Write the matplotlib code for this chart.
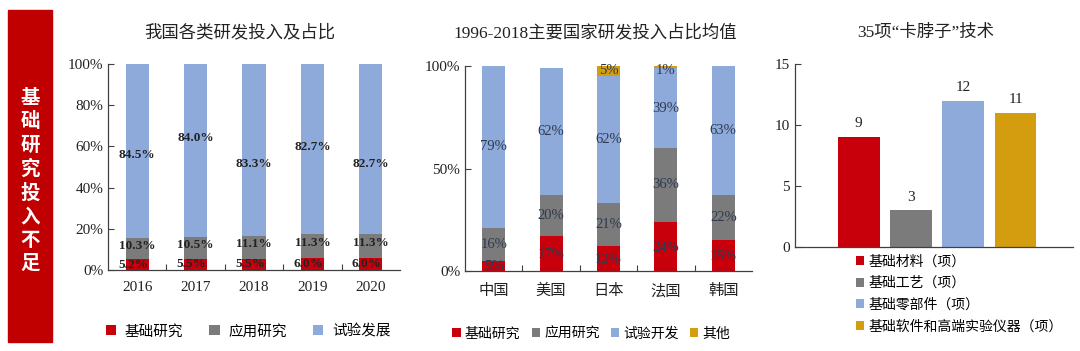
import numpy as np
import matplotlib.pyplot as plt
from matplotlib.patches import Rectangle

# fonts: Times-like for numbers, CJK fallback for Chinese
FONTS = ['Liberation Serif', 'Noto Sans CJK SC']
plt.rcParams['font.family'] = FONTS
plt.rcParams['axes.unicode_minus'] = False

# ---- data ----
years = ['2016', '2017', '2018', '2019', '2020']
cn_basic = [5.2, 5.5, 5.5, 6.0, 6.0]
cn_applied = [10.3, 10.5, 11.1, 11.3, 11.3]
cn_dev = [84.5, 84.0, 83.3, 82.7, 82.7]
cn_names = ['基础研究', '应用研究', '试验发展']

countries = ['中国', '美国', '日本', '法国', '韩国']
ct_basic = [5, 17, 12, 24, 15]
ct_applied = [16, 20, 21, 36, 22]
ct_dev = [79, 62, 62, 39, 63]
ct_other = [0, 0, 5, 1, 0]
ct_names = ['基础研究', '应用研究', '试验开发', '其他']

tech_names = ['基础材料（项）', '基础工艺（项）', '基础零部件（项）', '基础软件和高端实验仪器（项）']
tech_counts = [9, 3, 12, 11]

RED = '#c8000c'
GRAY = '#7b7b7b'
BLUE = '#8eaadb'
GOLD = '#d49d10'
BANNER = '#c00000'
TXT = '#222222'

fig = plt.figure(figsize=(10.8, 3.51), dpi=100)

# red side banner
fig.patches.append(Rectangle((8 / 1080, 1 - 342 / 351), 44 / 1080, 332 / 351,
                             transform=fig.transFigure, color=BANNER, zorder=1))
fig.text(30 / 1080, 0.484, '\n'.join('基础研究投入不足'), color='white', fontsize=14,
         fontweight='bold', ha='center', va='center', linespacing=1.3,
         family='Noto Sans CJK SC', zorder=2)


def style_axes(ax):
    for s in ['top', 'right']:
        ax.spines[s].set_visible(False)
    for s in ['left', 'bottom']:
        ax.spines[s].set_color('#404040')
        ax.spines[s].set_linewidth(0.9)
    ax.tick_params(axis='y', direction='in', length=4, width=0.8, labelsize=11,
                   colors='#404040', labelcolor=TXT)
    ax.tick_params(axis='x', which='major', length=0, labelsize=11, labelcolor=TXT, pad=8)
    ax.tick_params(axis='x', which='minor', direction='in', length=4, width=0.8, colors='#404040')


def pct(v, pos=None):
    return '%d%%' % v


# ---- chart 1: 我国各类研发投入及占比 ----
ax1 = fig.add_axes([108 / 1080, 1 - 270 / 351, 292 / 1080, 206 / 351])
x = np.arange(len(years))
w = 0.4
b1 = np.array(cn_basic)
b2 = b1 + np.array(cn_applied)
ax1.bar(x, cn_basic, w, color=RED, label=cn_names[0])
ax1.bar(x, cn_applied, w, bottom=b1, color=GRAY, label=cn_names[1])
ax1.bar(x, cn_dev, w, bottom=b2, color=BLUE, label=cn_names[2])
dev_shift = [-2, 6, -7, 1, -7]   # label heights wander a little in the source
for i in range(len(years)):
    ax1.text(x[i] - 0.07, cn_basic[i] / 2, '%.1f%%' % cn_basic[i], ha='center', va='center',
             fontsize=9.5, fontweight='bold', color=TXT)
    ax1.text(x[i], b1[i] + cn_applied[i] / 2 + 1.5, '%.1f%%' % cn_applied[i], ha='center',
             va='center', fontsize=9.5, fontweight='bold', color=TXT)
    ax1.text(x[i], b2[i] + cn_dev[i] / 2 + dev_shift[i], '%.1f%%' % cn_dev[i], ha='center',
             va='center', fontsize=9.5, fontweight='bold', color=TXT)
ax1.set_xlim(-0.5, len(years) - 0.5)
ax1.set_ylim(0, 100)
ax1.set_yticks(range(0, 101, 20))
ax1.yaxis.set_major_formatter(plt.FuncFormatter(pct))
ax1.set_xticks(x)
ax1.set_xticklabels(years)
ax1.set_xticks(np.arange(0.5, len(years) - 0.5), minor=True)
style_axes(ax1)
ax1.legend(loc='upper center', bbox_to_anchor=(0.48, -0.2), ncol=3, frameon=False,
           handlelength=0.7, handleheight=0.7, handletextpad=0.6,
           columnspacing=1.8, prop={'family': 'Noto Sans CJK SC', 'size': 10.5})
fig.text(240 / 1080, 1 - 33 / 351, '我国各类研发投入及占比', ha='center', va='center',
         fontsize=12.5, color=TXT)

# ---- chart 2: 1996-2018主要国家研发投入占比均值 ----
ax2 = fig.add_axes([465 / 1080, 1 - 271 / 351, 287 / 1080, 205 / 351])
x = np.arange(len(countries))
c1 = np.array(ct_basic)
c2 = c1 + np.array(ct_applied)
c3 = c2 + np.array(ct_dev)
ax2.bar(x, ct_basic, w, color=RED, label=ct_names[0])
ax2.bar(x, ct_applied, w, bottom=c1, color=GRAY, label=ct_names[1])
ax2.bar(x, ct_dev, w, bottom=c2, color=BLUE, label=ct_names[2])
ax2.bar(x, ct_other, w, bottom=c3, color=GOLD, label=ct_names[3])
LAB2 = '#2e3a50'
for i in range(len(countries)):
    ax2.text(x[i], ct_basic[i] / 2 - 0.5, '%d%%' % ct_basic[i], ha='center', va='center',
             fontsize=10.5, color=LAB2)
    ax2.text(x[i], c1[i] + ct_applied[i] / 2, '%d%%' % ct_applied[i], ha='center',
             va='center', fontsize=10.5, color=LAB2)
    ax2.text(x[i], c2[i] + ct_dev[i] / 2, '%d%%' % ct_dev[i], ha='center', va='center',
             fontsize=10.5, color=LAB2)
    if ct_other[i] > 0:
        ax2.text(x[i], 97.8, '%d%%' % ct_other[i], ha='center', va='center',
                 fontsize=10.5, color=LAB2)
ax2.set_xlim(-0.5, len(countries) - 0.5)
ax2.set_ylim(0, 100)
ax2.set_yticks([0, 50, 100])
ax2.yaxis.set_major_formatter(plt.FuncFormatter(pct))
ax2.set_xticks(x)
ax2.set_xticklabels(countries, family='Noto Sans CJK SC', fontsize=10.5)
ax2.set_xticks(np.arange(0.5, len(countries) - 0.5), minor=True)
style_axes(ax2)
ax2.legend(loc='upper center', bbox_to_anchor=(0.44, -0.21), ncol=4, frameon=False,
           handlelength=0.6, handleheight=0.6, handletextpad=0.3, columnspacing=0.8,
           prop={'family': 'Noto Sans CJK SC', 'size': 10})
fig.text(595 / 1080, 1 - 33 / 351, '1996-2018主要国家研发投入占比均值', ha='center',
         va='center', fontsize=12.5, color=TXT)

# ---- chart 3: 35项“卡脖子”技术 ----
ax3 = fig.add_axes([795 / 1080, 1 - 247 / 351, 278 / 1080, 183 / 351])
x = np.arange(len(tech_counts))
colors3 = [RED, GRAY, BLUE, GOLD]
for i in range(len(tech_counts)):
    ax3.bar(x[i], tech_counts[i], 0.8, color=colors3[i], label=tech_names[i])
    ax3.text(x[i], tech_counts[i] + 0.55, str(tech_counts[i]), ha='center', va='bottom',
             fontsize=11, color=TXT)
ax3.set_xlim(-1.22, 4.1)
ax3.set_ylim(0, 15)
ax3.set_yticks([0, 5, 10, 15])
ax3.set_xticks([])
style_axes(ax3)
ax3.legend(loc='upper left', bbox_to_anchor=(0.2, -0.01), ncol=1, frameon=False,
           handlelength=0.6, handleheight=0.6, handletextpad=0.3, labelspacing=0.55,
           borderaxespad=0, prop={'family': 'Noto Sans CJK SC', 'size': 10})
fig.text(926 / 1080, 1 - 33 / 351, '35项“卡脖子”技术', ha='center', va='center',
         fontsize=12.5, color=TXT)

fig.savefig('out.png', dpi=100, facecolor='white')
